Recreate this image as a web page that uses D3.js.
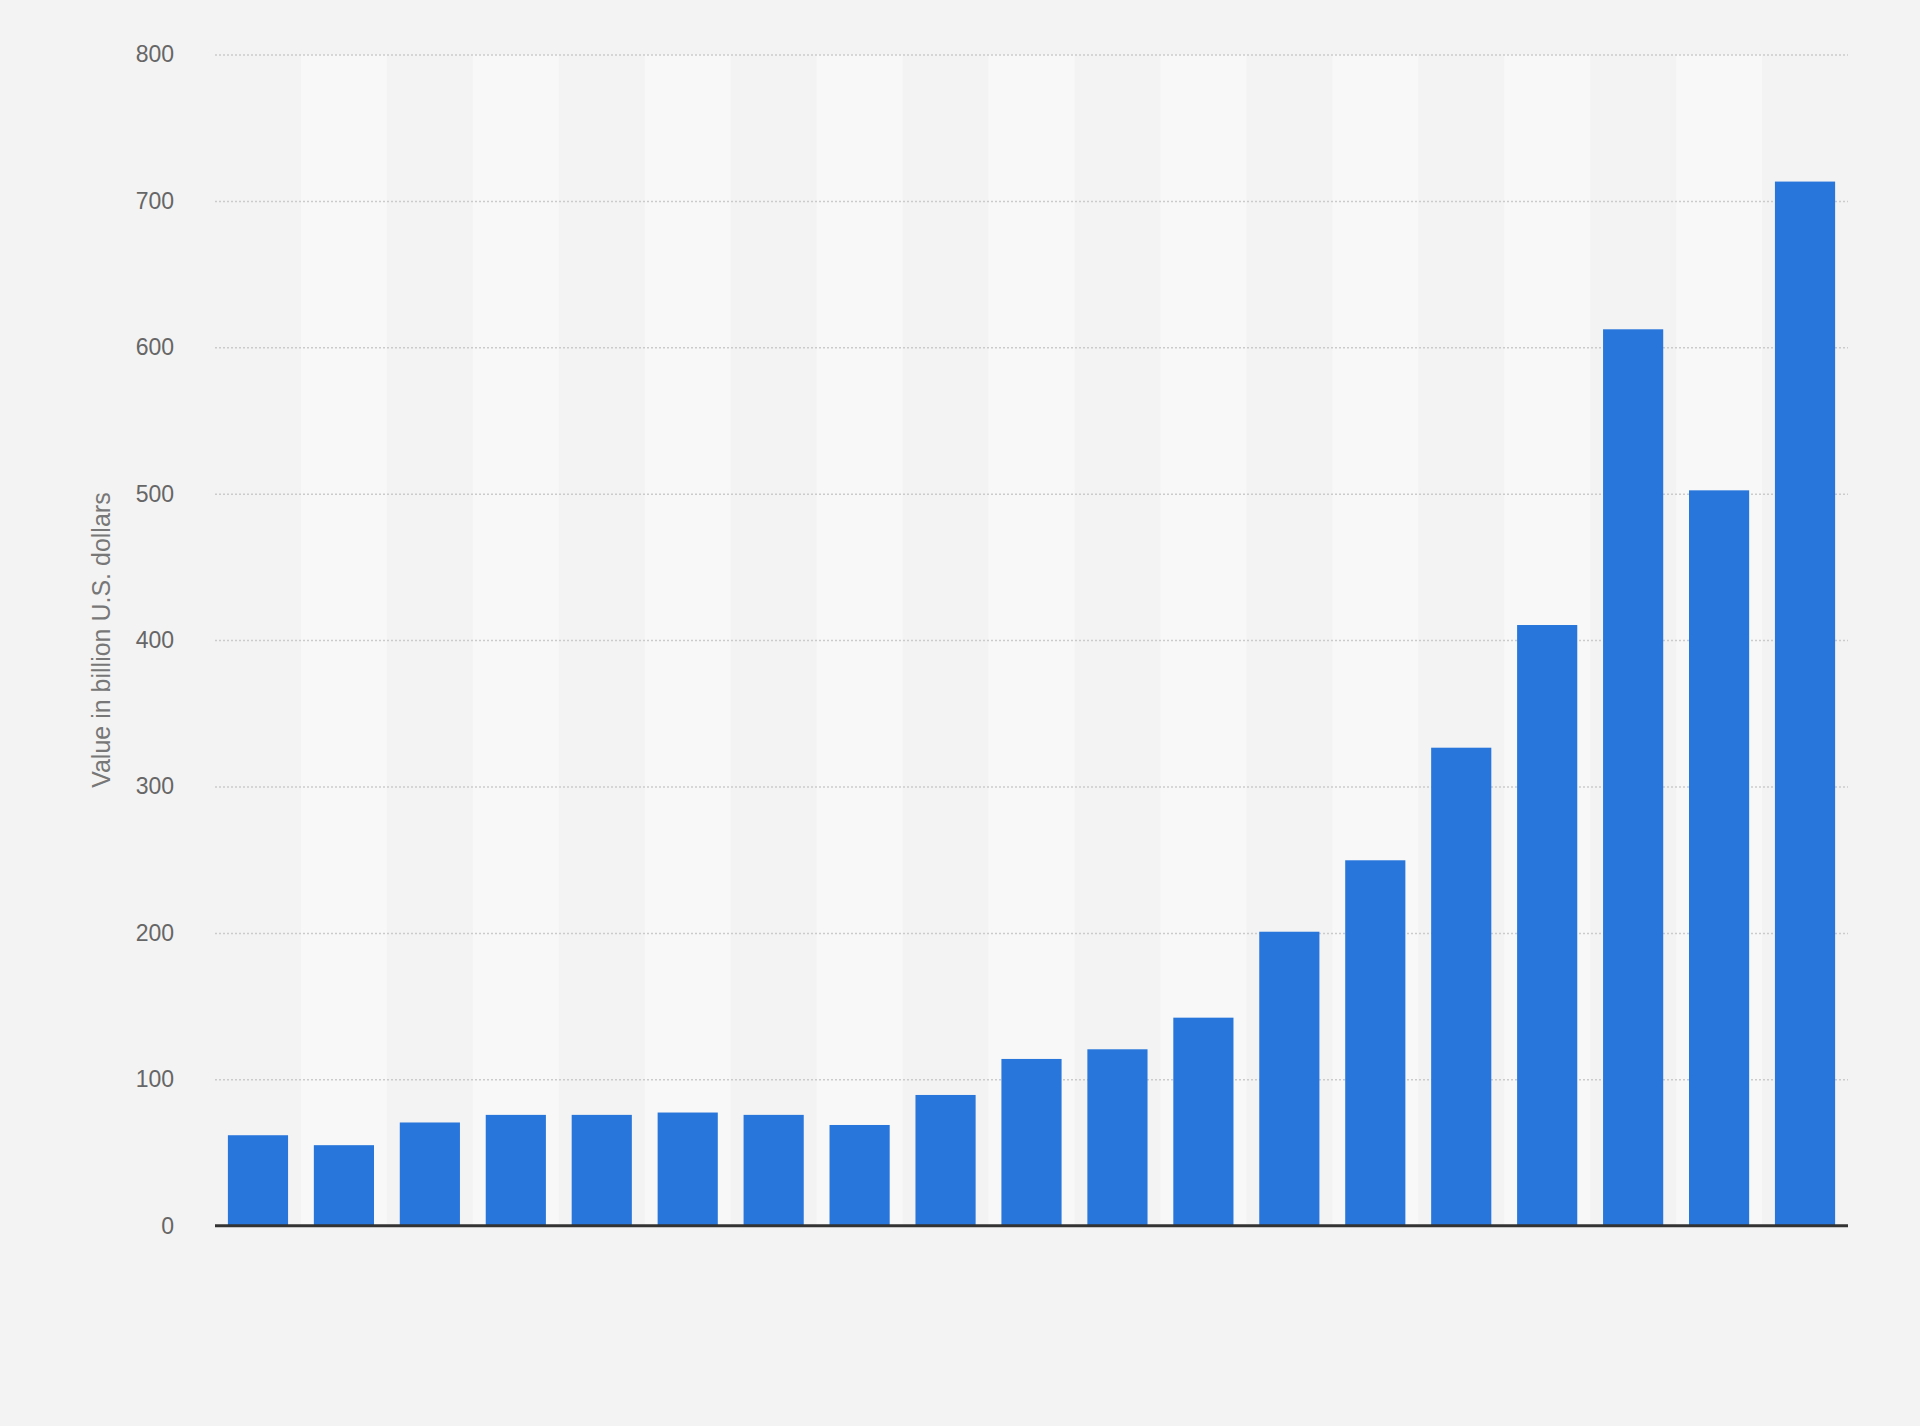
<!DOCTYPE html>
<html>
<head>
<meta charset="utf-8">
<script src="https://d3js.org/d3.v7.min.js"></script>
<style>
  html, body { margin: 0; padding: 0; background: #f3f3f3; }
  svg { display: block; }
  .tick text { font-family: "Liberation Sans", Arial, sans-serif; }
</style>
</head>
<body>
<svg id="chart"></svg>
<script>
// data (no category labels are shown there)
var categories = ["2001", "2002", "2003", "2004", "2005", "2006", "2007", "2008", "2009", "2010",
                  "2011", "2012", "2013", "2014", "2015", "2016", "2017", "2018", "2019"];
var values = [61.8, 55, 70.5, 75.7, 75.7, 77.3, 75.7, 68.8, 89.3, 113.9,
              120.5, 142.1, 200.8, 249.6, 326.5, 410.3, 612.3, 502.3, 713.2];
var yTicks = [0, 100, 200, 300, 400, 500, 600, 700, 800];
var yTitle = "Value in billion U.S. dollars";

var W = 1920, H = 1426;
// plot box (note: "top" is taken by window.top, so use other names)
var plotL = 215, plotR = 1848, plotT = 54.5, plotB = 1225.7;

var svg = d3.select("#chart").attr("width", W).attr("height", H);

svg.append("rect")
    .attr("width", W).attr("height", H)
    .attr("fill", "#f3f3f3");

var x = d3.scaleBand()
    .domain(categories)
    .range([plotL, plotR])
    .paddingInner(0.3)
    .paddingOuter(0.15);

var stripes = d3.scaleBand()
    .domain(categories)
    .range([plotL, plotR]);

var y = d3.scaleLinear()
    .domain([0, 800])
    .range([plotB, plotT]);

// alternating column shading
svg.append("g").selectAll("rect")
    .data(categories.filter((d, i) => i % 2 == 1))
    .enter().append("rect")
    .attr("x", d => stripes(d))
    .attr("y", y(800))
    .attr("width", stripes.bandwidth())
    .attr("height", y(0) - y(800))
    .attr("fill", "#f8f8f8");

// gridlines + tick labels
var yAxis = d3.axisLeft(y)
    .tickValues(yTicks)
    .tickSize(-(plotR - plotL))
    .tickPadding(41)
    .tickFormat(d3.format("d"));

var ga = svg.append("g")
    .attr("transform", "translate(" + plotL + ",0)")
    .call(yAxis);
ga.select(".domain").remove();
ga.selectAll(".tick line")
    .attr("stroke", "#cbcbcb")
    .attr("stroke-width", 1.5)
    .attr("stroke-dasharray", "2,2");
ga.selectAll(".tick text")
    .attr("fill", "#666")
    .attr("font-size", 23);

// bars
svg.append("g").selectAll("rect")
    .data(values)
    .enter().append("rect")
    .attr("x", (d, i) => x(categories[i]))
    .attr("y", d => y(d))
    .attr("width", x.bandwidth())
    .attr("height", d => y(0) - y(d))
    .attr("fill", "#2876db");

// baseline
svg.append("line")
    .attr("x1", plotL).attr("x2", plotR)
    .attr("y1", y(0)).attr("y2", y(0))
    .attr("stroke", "#333")
    .attr("stroke-width", 3);

// y axis title
svg.append("text")
    .attr("transform", "translate(110," + ((plotT + plotB) / 2) + ") rotate(-90)")
    .attr("text-anchor", "middle")
    .attr("font-family", "Liberation Sans, Arial, sans-serif")
    .attr("font-size", 25)
    .attr("fill", "#777")
    .text(yTitle);
</script>
</body>
</html>
